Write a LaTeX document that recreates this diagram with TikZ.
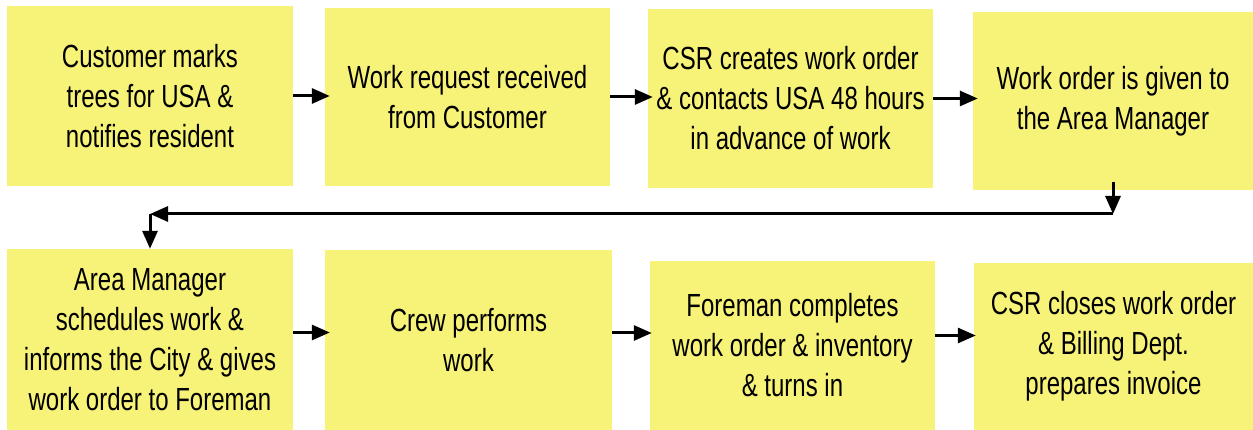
\documentclass[tikz,border=0pt]{standalone}
\usepackage{fontspec}
\setmainfont{Liberation Sans}[FakeStretch=0.75]
\usepackage{tikz}
\usetikzlibrary{arrows.meta}
\usepackage{xcolor}
\definecolor{notepad}{RGB}{247,242,120}

\begin{document}
\begin{tikzpicture}[x=1pt, y=1pt,
			stepbox/.style={fill=notepad, draw=none, inner sep=0pt, align=center,
				font=\fontsize{32}{40}\selectfont},
			flow/.style={black, line width=3pt, -{Triangle[length=18pt, width=15pt]}}]
			    		\useasboundingbox (0, 0) rectangle (1253, 430);
			    		% top row, left to right
			    		\node[stepbox, minimum width=286, minimum height=180] (cust)  at ( 150,   334) {Customer marks\\trees for USA \&\\notifies resident};
			    		\node[stepbox, minimum width=285, minimum height=178] (req)   at ( 467.5, 333) {Work request received\\from Customer};
			    		\node[stepbox, minimum width=285, minimum height=179] (csr)   at ( 790.5, 331.5) {CSR creates work order\\\& contacts USA 48 hours\\in advance of work};
			    		\node[stepbox, minimum width=280, minimum height=178] (given) at (1113,   329) {Work order is given to\\the Area Manager};
			    		% bottom row, runs off the lower edge
			    		\node[stepbox, minimum width=286, minimum height=181] (sched) at ( 150,    90.5) {Area Manager\\schedules work \&\\informs the City \& gives\\work order to Foreman};
			    		\node[stepbox, minimum width=287, minimum height=180] (crew)  at ( 468.5,  90) {Crew performs\\work};
			    		\node[stepbox, minimum width=285, minimum height=169] (fore)  at ( 792.5,  84.5) {Foreman completes\\work order \& inventory\\\& turns in};
			    		\node[stepbox, minimum width=279, minimum height=167] (bill)  at (1113.5,  83.5) {CSR closes work order\\\& Billing Dept.\\prepares invoice};
			    		% arrows between the boxes, tips run a little into the next box
			    		\draw[flow, shorten >=-5pt] (cust.east) -- (cust.east -| req.west);
			    		\draw[flow, shorten >=-5pt] (req.east) -- (req.east -| csr.west);
			    		\draw[flow, shorten >=-5pt] (csr.east) -- (csr.east -| given.west);
			    		\draw[flow, shorten >=-5pt] ([yshift=7pt]sched.east) -- ([yshift=7pt]sched.east -| crew.west);
			    		\draw[flow, shorten >=-2pt] ([yshift=7pt]crew.east) -- ([yshift=7pt]crew.east -| fore.west);
			    		\draw[flow, shorten >=-2pt] ([yshift=10pt]fore.east) -- ([yshift=10pt]fore.east -| bill.west);
			    		% return line from the top row down to the bottom row
			    		\coordinate (turnR) at (1113, 216);
			    		\coordinate (turnL) at ( 150, 216);
			    		\draw[flow, shorten <=-8pt] (given.south) -- (turnR);
			    		\draw[flow] (turnR) -- (turnL);
			    		\draw[flow] (turnL) -- (sched.north);
			    	\end{tikzpicture}
\end{document}
